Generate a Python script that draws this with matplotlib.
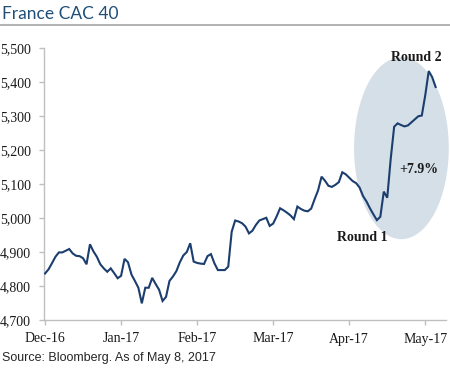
import matplotlib
matplotlib.use("Agg")
import matplotlib.pyplot as plt
from matplotlib.patches import Ellipse
from matplotlib.lines import Line2D
from matplotlib.ticker import FuncFormatter

# ---- data ----
cac40 = [4837, 4849, 4867, 4886, 4899, 4899, 4904, 4909, 4896, 4889,
         4888, 4882, 4864, 4923, 4902, 4886, 4864, 4852, 4842, 4852,
         4838, 4823, 4830, 4880, 4870, 4834, 4815, 4795, 4749, 4795,
         4795, 4824, 4806, 4789, 4756, 4768, 4815, 4828, 4844, 4870,
         4890, 4900, 4926, 4872, 4868, 4866, 4865, 4888, 4894, 4867,
         4847, 4847, 4847, 4857, 4960, 4993, 4990, 4985, 4975, 4955,
         4963, 4980, 4993, 4997, 5001, 4977, 4984, 5005, 5029, 5023,
         5016, 5008, 4997, 5034, 5027, 5022, 5020, 5028, 5056, 5082,
         5122, 5110, 5095, 5092, 5098, 5106, 5135, 5129, 5119, 5109,
         5103, 5090, 5065, 5049, 5029, 5011, 4994, 5004, 5078, 5060,
         5174, 5269, 5279, 5274, 5270, 5273, 5282, 5291, 5300, 5302,
         5362, 5433, 5415, 5386]
month_labels = ["Dec-16", "Jan-17", "Feb-17", "Mar-17", "Apr-17", "May-17"]
month_tick_index = [0, 22, 44, 66, 88, 110]
y_ticks = [4700, 4800, 4900, 5000, 5100, 5200, 5300, 5400, 5500]
annotations = [("Round 2", 107.5, 5473), ("Round 1", 91.8, 4943), ("+7.9%", 108.1, 5144)]
highlight_center = (103.1, 5206)
highlight_size = (27.4, 536)

W, H = 450, 369
fig = plt.figure(figsize=(W / 100, H / 100), dpi=100)
fig.patch.set_facecolor("white")

ax = fig.add_axes([44 / W, 49 / H, (446 - 44) / W, (320.7 - 49) / H])
ax.set_facecolor("none")

ell = Ellipse(highlight_center, highlight_size[0], highlight_size[1],
              facecolor="#D5DFE7", edgecolor="none", zorder=1, clip_on=False)
ax.add_patch(ell)

x = list(range(len(cac40)))
ax.plot(x, cac40, color="#1B3E6F", linewidth=1.5, zorder=3, solid_joinstyle="miter")

ax.set_xlim(-0.3, 116)
ax.set_ylim(4700, 5500)
ax.set_yticks(y_ticks)
ax.yaxis.set_major_formatter(FuncFormatter(lambda v, p: f"{int(v):,}"))
ax.set_xticks(month_tick_index)
ax.set_xticklabels(month_labels)

for s in ["top", "right"]:
    ax.spines[s].set_visible(False)
for s in ["left", "bottom"]:
    ax.spines[s].set_color("#BFBFBF")
    ax.spines[s].set_linewidth(1.0)

serif = ["Liberation Serif", "DejaVu Serif"]
ax.tick_params(axis="both", direction="out", length=3.5, width=1.0, color="#BFBFBF",
               labelsize=10, labelcolor="#1a1a1a")
ax.tick_params(axis="y", pad=6)
ax.tick_params(axis="x", pad=5.5)
for lab in ax.get_xticklabels() + ax.get_yticklabels():
    lab.set_family(serif)

for txt, xi, yv in annotations:
    ax.text(xi, yv, txt, ha="center", va="center", fontsize=10, fontweight="bold",
            family=serif, color="#1a1a1a", zorder=4, clip_on=False)

fig.text(2 / W, 1 - 14 / H, "France CAC 40", ha="left", va="center",
         fontsize=12.5, color="#1F4E79", family=["Lato", "DejaVu Sans"])
fig.add_artist(Line2D([0, 1], [1 - 25 / H, 1 - 25 / H], transform=fig.transFigure,
                      color="#A6A6A6", linewidth=1.2))
fig.text(2 / W, 1 - 358 / H, "Source: Bloomberg. As of May 8, 2017", ha="left", va="center",
         fontsize=9, color="#262626", family=["Liberation Sans", "DejaVu Sans"])

fig.savefig("out.png", dpi=100)
